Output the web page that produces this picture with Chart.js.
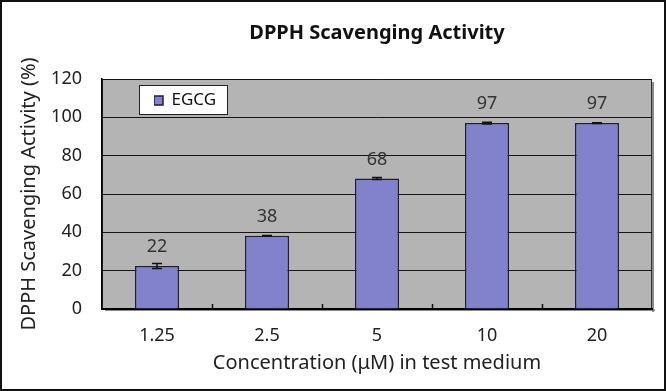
<!DOCTYPE html>
<html><head><meta charset="utf-8">
<script src="https://cdn.jsdelivr.net/npm/chart.js@4/dist/chart.umd.min.js"></script>
<style>
html,body{margin:0;padding:0;background:#fff;}
#wrap{position:relative;width:666px;height:391px;overflow:hidden;}
#wrap canvas{position:absolute;left:0;top:0;}
#frame{position:absolute;left:0;top:0;width:666px;height:391px;box-sizing:border-box;border:2px solid #111;pointer-events:none;}
</style></head><body>
<div id="wrap"><canvas id="c" width="666" height="391"></canvas><div id="frame"></div></div>
<script>
// ---- data ----
const categories = ['1.25', '2.5', '5', '10', '20'];
const seriesName = 'EGCG';
const egcgValues = [22.4, 38.2, 68.1, 97.0, 97.0];
const egcgErrors = [1.3, 0.2, 0.5, 0.5, 0.2];
const valueLabels = ['22', '38', '68', '97', '97'];
const yTickMin = 0, yTickMax = 120, yTickStep = 20;

const FONT = "'Noto Sans', 'Open Sans', sans-serif";

const plotBg = {
  id: 'plotBg',
  beforeDraw(chart) {
    const {ctx, chartArea: ca} = chart;
    ctx.save();
    ctx.fillStyle = '#b4b4b4';
    ctx.fillRect(ca.left, ca.top, ca.right - ca.left, ca.bottom - ca.top);
    // soft shadow on right/bottom edge
    ctx.fillStyle = '#8a8a8a';
    ctx.fillRect(ca.right, ca.top + 3, 2, ca.bottom - ca.top);
    ctx.fillRect(ca.left + 3, ca.bottom, ca.right - ca.left, 2);
    ctx.strokeStyle = '#333';
    ctx.lineWidth = 1;
    ctx.strokeRect(ca.left + 0.5, ca.top + 0.5, ca.right - ca.left - 1, ca.bottom - ca.top - 1);
    // legend box background
    const lg = chart.legend;
    if (lg) {
      ctx.fillStyle = '#ffffff';
      ctx.fillRect(lg.left - 15, lg.top - 7, 88, 29);
      ctx.strokeStyle = '#222';
      ctx.lineWidth = 1;
      ctx.strokeRect(lg.left - 15 + 0.5, lg.top - 7 + 0.5, 88, 29);
    }
    ctx.restore();
  }
};

const legendPlace = {
  id: 'legendPlace',
  afterLayout(chart) {
    const lg = chart.legend, ca = chart.chartArea;
    if (!lg) return;
    const w = lg.width, h = lg.height;
    lg.left = ca.left + 52;
    lg.top = ca.top + 13;
    lg.right = lg.left + w;
    lg.bottom = lg.top + h;
  }
};

const extras = {
  id: 'extras',
  afterDatasetsDraw(chart) {
    const {ctx, chartArea: ca} = chart;
    const xs = chart.scales.x, ys = chart.scales.y;
    const meta = chart.getDatasetMeta(0);
    ctx.save();
    // small inner tick marks between categories
    ctx.strokeStyle = '#111';
    ctx.lineWidth = 1.5;
    for (let i = 0; i < categories.length - 1; i++) {
      const x = Math.round(xs.getPixelForValue(i + 0.5)) + 0.5;
      ctx.beginPath();
      ctx.moveTo(x, ca.bottom);
      ctx.lineTo(x, ca.bottom - 5);
      ctx.stroke();
    }
    // error bars
    ctx.strokeStyle = '#111';
    ctx.lineWidth = 1.5;
    meta.data.forEach((bar, i) => {
      const v = egcgValues[i], e = egcgErrors[i];
      const yTop = ys.getPixelForValue(v + e);
      const yBot = ys.getPixelForValue(v - e);
      ctx.beginPath();
      ctx.moveTo(bar.x, yTop); ctx.lineTo(bar.x, yBot);
      ctx.moveTo(bar.x - 5, yTop); ctx.lineTo(bar.x + 5, yTop);
      ctx.moveTo(bar.x - 5, yBot); ctx.lineTo(bar.x + 5, yBot);
      ctx.stroke();
    });
    // value labels
    ctx.fillStyle = '#333';
    ctx.font = "18px " + FONT;
    ctx.textAlign = 'center';
    ctx.textBaseline = 'middle';
    meta.data.forEach((bar, i) => {
      const y = ys.getPixelForValue(egcgValues[i]);
      ctx.fillText(valueLabels[i], bar.x, y - 19);
    });
    ctx.restore();
  }
};

new Chart(document.getElementById('c'), {
  type: 'bar',
  data: {
    labels: categories,
    datasets: [{
      label: seriesName,
      data: egcgValues,
      backgroundColor: '#8181cc',
      borderColor: '#1e1e3c',
      borderWidth: 1.5,
      barPercentage: 0.4,
      categoryPercentage: 1.0
    }]
  },
  options: {
    responsive: false,
    animation: false,
    devicePixelRatio: 1,
    layout: { padding: { left: 0, top: 0, bottom: 0, right: 14 } },
    plugins: {
      title: {
        display: true,
        text: 'DPPH Scavenging Activity',
        fullSize: false,
        color: '#111',
        font: { family: FONT, size: 20, weight: 'bold' },
        padding: { top: 21, bottom: 34 }
      },
      legend: {
        display: true,
        position: 'chartArea',
        align: 'start',
        labels: {
          boxWidth: 9,
          boxHeight: 9,
          padding: 0,
          color: '#111',
          font: { family: FONT, size: 17 }
        }
      },
      tooltip: { enabled: false }
    },
    scales: {
      x: {
        grid: { display: false, drawTicks: false },
        border: { display: true, color: '#000', width: 2 },
        ticks: { color: '#222', padding: 16, font: { family: FONT, size: 18 } },
        title: {
          display: true,
          text: 'Concentration (μM) in test medium',
          color: '#222',
          font: { family: FONT, size: 20 },
          padding: { top: 0, bottom: 16 }
        },
        afterFit(scale) { scale.height = 82; }
      },
      y: {
        min: yTickMin,
        max: yTickMax,
        ticks: { stepSize: yTickStep, color: '#222', padding: 20, font: { family: FONT, size: 18 } },
        grid: { color: '#151515', lineWidth: 1, drawTicks: false },
        border: { display: true, color: '#000', width: 1.5 },
        title: {
          display: true,
          text: 'DPPH Scavenging Activity (%)',
          color: '#222',
          font: { family: FONT, size: 20 },
          padding: { top: 17, bottom: 0 }
        },
        afterFit(scale) { scale.width = 102; }
      }
    }
  },
  plugins: [plotBg, legendPlace, extras]
});
</script>
</body></html>
